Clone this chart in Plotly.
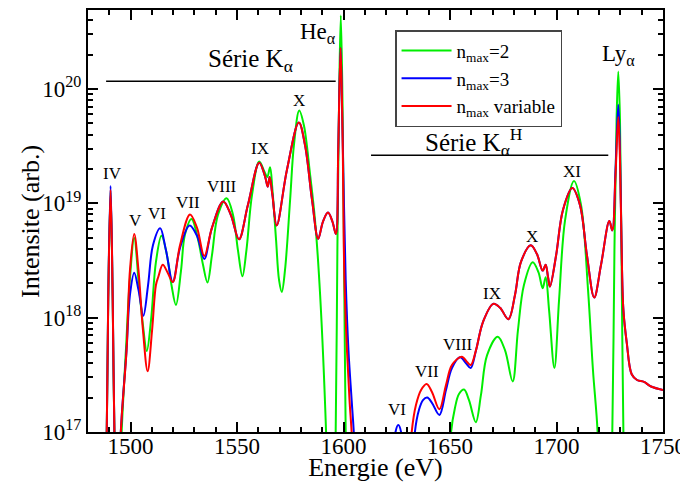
import plotly.graph_objects as go
import math

# ---------------- data ----------------
# n_max variable (red)
energy_var = [1487.5, 1488.8, 1489.5, 1490.6, 1491.6, 1492.4, 1493.9, 1495.4, 1498.1, 1499.7,
              1501.7, 1503.7, 1505.8, 1508.0, 1510.1, 1511.9, 1513.1, 1515.1, 1517.3, 1519.8,
              1523.2, 1527.9, 1531.2, 1534.6, 1538.2, 1543.5, 1547.1, 1550.9, 1555.1, 1560.4,
              1563.1, 1564.4, 1565.3, 1566.6, 1568.6, 1573.4, 1579.0, 1581.9, 1585.2, 1588.1,
              1590.3, 1592.7, 1594.8, 1596.4, 1597.5, 1598.6, 1599.5, 1600.4, 1601.6, 1602.8,
              1604.0, 1605.4, 1628.9, 1632.0, 1634.0, 1636.4, 1639.0, 1641.5, 1645.0, 1648.1,
              1650.9, 1655.5, 1658.0, 1659.7, 1662.2, 1665.5, 1670.3, 1673.5, 1677.4, 1680.5,
              1683.3, 1687.9, 1690.8, 1693.5, 1694.9, 1696.0, 1696.9, 1699.8, 1703.0, 1707.4,
              1711.0, 1714.3, 1717.7, 1720.9, 1724.8, 1726.2, 1727.7, 1729.0, 1729.8, 1730.5,
              1731.4, 1733.0, 1735.3, 1737.8, 1741.1, 1744.4, 1750.0]
intens_var = [1e16, 1.0e17, 1.43e18, 1.31e19, 1.43e18, 1.0e17, 1e16, 1.0e17, 5.2e17, 2.6e18,
              5.4e18, 2.6e18, 7.8e17, 3.4e17, 7.8e17, 1.93e18, 2.3e18, 2.9e18, 2.5e18, 2.05e18,
              4.3e18, 8.0e18, 6.1e18, 3.46e18, 6.1e18, 1.04e19, 7.9e18, 4.85e18, 9.7e18, 2.27e19,
              1.73e19, 1.40e19, 1.70e19, 1.18e19, 6.4e18, 1.96e19, 5.1e19, 3.24e19, 1.07e19, 4.9e18,
              6.9e18, 8.3e18, 6.9e18, 5.4e18, 2.93e19, 2.3e20, 4.4e19, 2.14e18, 5.2e17, 1.9e17,
              8.5e16, 1e16, 1e16, 1.0e17, 1.72e17, 2.33e17, 2.63e17, 2.24e17, 1.58e17, 2.58e17,
              3.85e17, 4.56e17, 4.1e17, 3.85e17, 5.2e17, 9.2e17, 1.32e18, 1.22e18, 9.7e17, 1.58e18,
              3.07e18, 4.3e18, 3.6e18, 2.58e18, 2.9e18, 2.27e18, 1.87e18, 3.5e18, 8.7e18, 1.36e19,
              9.7e18, 3.5e18, 1.5e18, 2.9e18, 7.0e18, 5.8e18, 1.77e19, 5.7e19, 2.4e19, 4.8e18,
              1.17e18, 6.0e17, 3.2e17, 2.85e17, 2.74e17, 2.5e17, 2.33e17]

# n_max = 3 (blue)
energy_n3 = [1487.5, 1488.8, 1489.5, 1490.6, 1491.6, 1492.4, 1493.9, 1495.4, 1498.1, 1499.7,
             1501.7, 1503.7, 1506.0, 1508.2, 1510.5, 1513.9, 1516.6, 1519.8, 1523.2, 1527.7,
             1531.2, 1534.6, 1538.2, 1543.5, 1547.1, 1550.9, 1555.1, 1560.4, 1563.1, 1564.4,
             1565.3, 1566.6, 1568.6, 1573.4, 1579.0, 1581.9, 1585.2, 1588.1, 1590.3, 1592.7,
             1594.8, 1596.4, 1597.5, 1598.6, 1599.5, 1601.0, 1602.3, 1603.8, 1605.0, 1606.3,
             1622.7, 1624.4, 1625.7, 1627.0, 1628.4, 1631.2, 1633.5, 1635.4, 1637.3, 1639.3,
             1641.5, 1645.0, 1648.1, 1650.9, 1654.7, 1657.5, 1659.7, 1662.2, 1665.5, 1670.3,
             1673.5, 1677.4, 1680.5, 1683.3, 1687.9, 1690.8, 1693.5, 1694.9, 1696.0, 1696.9,
             1699.8, 1703.0, 1707.4, 1711.0, 1714.3, 1717.7, 1720.9, 1724.8, 1726.2, 1727.7,
             1729.0, 1729.8, 1730.5, 1731.4, 1733.0, 1735.3, 1737.8, 1741.1, 1744.4, 1750.0]
intens_n3 = [1e16, 1.0e17, 1.5e18, 1.42e19, 1.5e18, 1.0e17, 1e16, 1.0e17, 5.2e17, 1.58e18,
             2.47e18, 1.75e18, 1.04e18, 1.93e18, 4.3e18, 6.05e18, 3.9e18, 2.05e18, 4.07e18, 6.4e18,
             5.2e18, 3.26e18, 6.1e18, 1.04e19, 7.9e18, 4.85e18, 9.7e18, 2.27e19, 1.73e19, 1.40e19,
             1.70e19, 1.18e19, 6.4e18, 1.96e19, 5.1e19, 3.24e19, 1.07e19, 4.9e18, 6.9e18, 8.3e18,
             6.9e18, 5.4e18, 2.93e19, 2.3e20, 4.4e19, 2.14e18, 5.2e17, 1.9e17, 8.5e16, 1e16,
             1e16, 1.0e17, 1.15e17, 1.0e17, 1e16, 1e16, 1.0e17, 1.56e17, 1.9e17, 2.0e17,
             1.8e17, 1.41e17, 2.33e17, 3.63e17, 4.5e17, 4.0e17, 3.63e17, 5.2e17, 9.2e17, 1.32e18,
             1.22e18, 9.7e17, 1.58e18, 3.07e18, 4.3e18, 3.6e18, 2.58e18, 2.9e18, 2.27e18, 1.87e18,
             3.5e18, 8.7e18, 1.36e19, 9.7e18, 3.5e18, 1.5e18, 2.9e18, 7.0e18, 5.8e18, 1.96e19,
             7.3e19, 2.9e19, 4.8e18, 1.17e18, 6.0e17, 3.2e17, 2.85e17, 2.74e17, 2.5e17, 2.33e17]

# n_max = 2 (green)
energy_n2 = [1487.5, 1488.8, 1489.5, 1490.6, 1491.6, 1492.4, 1494.1, 1495.8, 1497.8, 1499.7,
             1501.7, 1503.9, 1505.8, 1507.6, 1509.6, 1511.9, 1514.5, 1517.1, 1519.2, 1521.3,
             1523.7, 1525.5, 1528.6, 1531.7, 1534.0, 1536.1, 1538.2, 1541.0, 1545.1, 1548.1,
             1550.4, 1552.5, 1554.4, 1557.0, 1560.4, 1562.9, 1564.2, 1565.5, 1566.6, 1568.3,
             1569.7, 1571.0, 1572.5, 1574.9, 1576.7, 1579.2, 1581.4, 1584.3, 1586.6, 1589.0,
             1591.8, 1593.2, 1595.0, 1596.3, 1597.1, 1597.9, 1598.7, 1599.5, 1600.2, 1601.0,
             1602.1, 1648.6, 1650.5, 1652.3, 1654.2, 1656.6, 1658.9, 1662.1, 1664.5, 1667.4,
             1672.4, 1675.8, 1679.4, 1681.9, 1684.7, 1688.8, 1691.5, 1693.5, 1694.9, 1696.5,
             1699.0, 1701.2, 1704.0, 1708.2, 1711.5, 1714.8, 1717.1, 1719.3, 1720.9, 1724.6,
             1726.2, 1727.2, 1728.2, 1729.0, 1729.8, 1730.5, 1731.4, 1732.6, 1750.0]
intens_n2 = [1e16, 1.0e17, 1.43e18, 1.26e19, 1.43e18, 1.0e17, 1e16, 1.0e17, 5.2e17, 2.22e18,
             4.98e18, 1.93e18, 8.6e17, 5.1e17, 9.5e17, 3.07e18, 5.2e18, 3.5e18, 1.93e18, 1.29e18,
             2.6e18, 5.3e18, 7.3e18, 4.8e18, 2.9e18, 2.03e18, 3.5e18, 7.9e18, 1.11e19, 7.9e18,
             3.9e18, 2.3e18, 3.9e18, 1.18e19, 2.32e19, 1.88e19, 1.70e19, 2.07e19, 1.31e19, 4.8e18,
             2.14e18, 1.68e18, 2.6e18, 1.07e19, 3.24e19, 6.5e19, 4.8e19, 1.77e19, 7.1e18, 1.58e18,
             1.0e17, 1e16, 1e16, 1.0e17, 3.9e18, 8.0e19, 4.4e20, 8.0e19, 3.9e18, 1.0e17,
             1e16, 1e16, 1.0e17, 1.62e17, 2.15e17, 2.35e17, 1.9e17, 1.22e17, 2.1e17, 4.7e17,
             6.8e17, 5.2e17, 2.77e17, 7.8e17, 1.93e18, 3.05e18, 2.5e18, 1.81e18, 2.26e18, 1.17e18,
             3.63e17, 1.43e18, 7.1e18, 1.57e19, 9.7e18, 1.75e18, 3.5e17, 1.0e17, 1e16, 1e16,
             1.0e17, 3.9e18, 5.4e19, 1.42e20, 5.4e19, 3.9e18, 1.0e17, 1e16, 1e16]

series_names = ["n<sub>max</sub>=2", "n<sub>max</sub>=3", "n<sub>max</sub> variable"]
series_colors = ["#00ee00", "#0000ff", "#ff0000"]

x_range = [1480, 1750]
ytick_vals = [1e17, 1e18, 1e19, 1e20]
ytick_text = ["10<sup>17</sup>", "10<sup>18</sup>", "10<sup>19</sup>", "10<sup>20</sup>"]

labels_K = ["IV", "V", "VI", "VII", "VIII", "IX", "X"]
labels_K_E = [1491.6, 1502.1, 1512.5, 1526.8, 1542.8, 1560.8, 1579.2]
labels_K_I = [1.83e19, 7.05e18, 8.07e18, 1.02e19, 1.40e19, 2.99e19, 8.0e19]
labels_KH = ["VI", "VII", "VIII", "IX", "X", "XI"]
labels_KH_E = [1624.9, 1639.0, 1653.9, 1669.6, 1688.6, 1707.4]
labels_KH_I = [1.56e17, 3.37e17, 5.77e17, 1.63e18, 5.1e18, 1.89e19]

# ---------------- figure ----------------
FONT = "Liberation Serif, Times New Roman, serif"
fig = go.Figure()
for name, xs, ys, col in zip(series_names, [energy_n2, energy_n3, energy_var],
                             [intens_n2, intens_n3, intens_var], series_colors):
    fig.add_trace(go.Scatter(x=xs, y=ys, mode="lines", name=name,
                             line=dict(color=col, width=2, shape="spline", smoothing=1.0)))

ann = []
for t, e, i in zip(labels_K + labels_KH, labels_K_E + labels_KH_E, labels_K_I + labels_KH_I):
    ann.append(dict(x=e, y=math.log10(i), text=t, showarrow=False, xref="x", yref="y",
                    font=dict(size=17, family=FONT, color="black")))
ann.append(dict(x=1597.5, y=20.49, text="He<sub>α</sub>", showarrow=False, xanchor="right",
                font=dict(size=23, family=FONT, color="black")))
ann.append(dict(x=1728.9, y=20.30, text="Ly<sub>α</sub>", showarrow=False,
                font=dict(size=23, family=FONT, color="black")))
ann.append(dict(x=1535.2, y=20.245, text="Série K<sub>α</sub>", showarrow=False, xanchor="left",
                font=dict(size=25, family=FONT, color="black")))
ann.append(dict(x=1637.1, y=19.54, text="Série K<sub>α</sub><sup>H</sup>", showarrow=False,
                xanchor="left", font=dict(size=25, family=FONT, color="black")))
# y-axis title (placed as a rotated label, close to the tick labels as in the original)
ann.append(dict(x=-0.101, y=0.5, xref="paper", yref="paper", text="Intensite (arb.)",
                textangle=-90, showarrow=False, xanchor="center", yanchor="middle",
                font=dict(size=26, family=FONT, color="black")))
fig.update_layout(annotations=ann)

# series bars under "Série" labels (x in eV, y as fraction of plot height)
fig.add_shape(type="line", xref="x", yref="paper", x0=1488.5, x1=1596.3, y0=0.831, y1=0.831,
              line=dict(color="black", width=1.5), layer="above")
fig.add_shape(type="line", xref="x", yref="paper", x0=1612.9, x1=1724.3, y0=0.656, y1=0.656,
              line=dict(color="black", width=1.5), layer="above")

minor_y = [d * 10.0 ** p for p in range(17, 21) for d in range(2, 10)]

# the page adds an 8px body margin, so the figure is 8px smaller than the window
fig.update_layout(
    width=680, height=474, autosize=False,
    margin=dict(l=80, r=25, t=2, b=50),
    paper_bgcolor="white", plot_bgcolor="white",
    font=dict(family=FONT, color="black", size=22),
    legend=dict(x=0.534, y=0.952, xanchor="left", yanchor="top", bgcolor="white",
                bordercolor="#444", borderwidth=1.5, font=dict(size=19, family=FONT),
                itemwidth=50, tracegroupgap=0),
)
fig.update_xaxes(range=x_range, tickmode="linear", tick0=1500, dtick=50, automargin=False,
                 ticks="inside", ticklen=10, tickwidth=1.5, tickcolor="black",
                 showline=True, linecolor="black", linewidth=2, mirror="ticks",
                 showgrid=False, zeroline=False, ticklabelstandoff=-8,
                 minor=dict(tick0=1480, dtick=10, ticks="inside", ticklen=5, tickwidth=1.5,
                            tickcolor="black", showgrid=False),
                 tickfont=dict(size=23, family=FONT),
                 title=dict(text="Energie (eV)", font=dict(size=26, family=FONT), standoff=0))
fig.update_yaxes(type="log", range=[17, 20.691], tickmode="array", tickvals=ytick_vals,
                 ticktext=ytick_text, ticks="inside", ticklen=10, tickwidth=1.5, automargin=False,
                 tickcolor="black", showline=True, linecolor="black", linewidth=2,
                 mirror="ticks", showgrid=False, zeroline=False,
                 minor=dict(tickmode="array", tickvals=minor_y, ticks="inside", ticklen=5,
                            tickwidth=1.5, tickcolor="black", showgrid=False),
                 tickfont=dict(size=23, family=FONT))

fig.write_html("out.html")
